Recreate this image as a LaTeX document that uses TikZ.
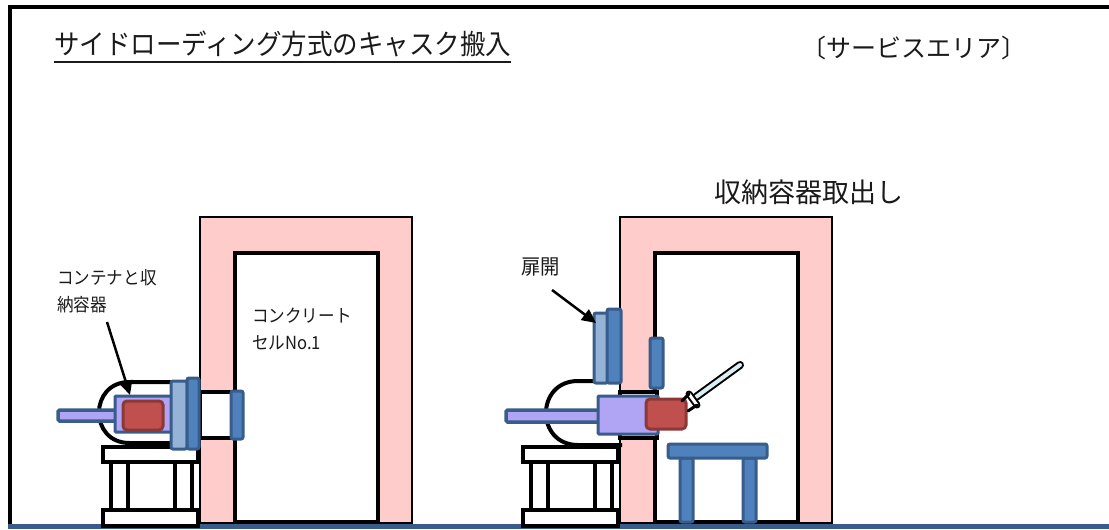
\documentclass[tikz,border=0pt]{standalone}
\usepackage{fontspec}
\setmainfont{Noto Sans CJK JP}
\newfontfamily\narrowjp[FakeStretch=0.92]{Noto Sans CJK JP}
\usetikzlibrary{arrows.meta}
\definecolor{wallpink}{HTML}{FFCCCC}
\definecolor{edgeblue}{HTML}{385D8A}
\definecolor{midblue}{HTML}{4F81BD}
\definecolor{lightblue}{HTML}{95B3D7}
\definecolor{lavender}{HTML}{B0A4F5}
\definecolor{caskred}{HTML}{C0504D}
\definecolor{caskedge}{HTML}{8C3836}
\definecolor{polecyan}{HTML}{DAEEF3}
\definecolor{inktext}{HTML}{1A1A1A}
\begin{document}
\begin{tikzpicture}[x=1pt,y=-1pt,
  wallouter/.style={fill=wallpink,draw=black,line width=1.3pt},
  wallinner/.style={fill=white,draw=black,line width=4pt},
  blackpart/.style={fill=white,draw=black,line width=4pt},
  bluepart/.style={fill=midblue,draw=edgeblue,line width=3pt,rounded corners=2pt},
  lightpart/.style={fill=lightblue,draw=edgeblue,line width=3pt,rounded corners=2pt},
  containerbox/.style={fill=lavender,draw=edgeblue,line width=3pt,rounded corners=1pt},
  caskbox/.style={fill=caskred,draw=caskedge,line width=3pt,rounded corners=4pt},
  rodbox/.style={fill=lavender,draw=edgeblue,line width=3.5pt,rounded corners=1.5pt},
  hood/.style={draw=black,line width=4pt},
  callout/.style={draw=black,line width=2.5pt,-{Triangle[length=14pt,width=13pt]}},
  lbltext/.style={font=\narrowjp\fontsize{18}{27}\selectfont,text=inktext,align=left,inner sep=0pt,anchor=west},
  headtext/.style={text=inktext,inner sep=0pt}]
\useasboundingbox (0,0) rectangle (1109,530);

% frame and floor
\draw[black,line width=3.5pt] (1109,7) -- (10,7) -- (10,524);
\draw[edgeblue,line width=5pt] (8,526.5) -- (1109,526.5);

% headings
\node[headtext,font=\narrowjp\fontsize{27.7}{32}\selectfont,anchor=west] (title) at (54,44) {サイドローディング方式のキャスク搬入};
\draw[inktext,line width=1.3pt] (title.south west |- 0,62) -- (title.south east |- 0,62);
\node[headtext,font=\fontsize{25}{30}\selectfont] (area) at (914,48) {〔サービスエリア〕};
\node[headtext,font=\fontsize{27}{30}\selectfont] (step2) at (809,192) {収納容器取出し};

% ---------- left: cask docked to the cell ----------
\draw[wallouter] (200,217) rectangle (412,523);
\draw[wallinner] (235,253) rectangle (378,522);
\node[lbltext] (cellname) at (252,328.5) {コンクリート\\セルNo.1};
\draw[blackpart] (200,392) rectangle (235,438);
\draw[bluepart] (231,391) rectangle (243,439);

% stand
\draw[blackpart] (111,462) rectangle (128,510);
\draw[blackpart] (175,462) rectangle (192,510);
\draw[blackpart] (103,447) rectangle (198,462);
\draw[blackpart] (103,510) rectangle (198,526);

% cask
\draw[hood] (173,382) -- (129.5,382) .. controls (88.8,382) and (88.8,443) .. (129.5,443) -- (173,443);
\draw[rodbox] (58,410) rectangle (118,421);
\draw[containerbox] (115,396) rectangle (173,432);
\draw[caskbox] (123,401) rectangle (163,430);
\draw[lightpart] (171,381) rectangle (187,449);
\draw[bluepart] (187,378) rectangle (199,449);

\node[lbltext] (contlbl) at (57,291.5) {コンテナと収\\納容器};
\coordinate (contfrom) at (107,322);
\coordinate (contto) at (130,395);
\draw[callout] (contfrom) -- (contto);

% ---------- right: container taken out ----------
\draw[wallouter] (620,217) rectangle (832,523);
\draw[wallinner] (655,253) rectangle (798,522);
\draw[blackpart] (620,392) rectangle (657,438);
\draw[bluepart] (650,338) rectangle (663,388);

% stand
\draw[blackpart] (531,462) rectangle (548,510);
\draw[blackpart] (595,462) rectangle (612,510);
\draw[blackpart] (523,447) rectangle (618,462);
\draw[blackpart] (523,510) rectangle (618,526);

% cask with opened door
\draw[hood] (622,381) -- (578,381) .. controls (535.3,381) and (535.3,445) .. (578,445) -- (622,445);
\draw[rodbox] (506,410) rectangle (600,422);
\draw[containerbox] (598,396) rectangle (658,434);
\draw[caskbox] (646,399) rectangle (686,429);
\draw[lightpart] (594,313) rectangle (608,383);
\draw[bluepart] (607,309) rectangle (621,383);

\node[lbltext,font=\narrowjp\fontsize{21}{27}\selectfont] (doorlbl) at (521,267) {扉開};
\coordinate (doorfrom) at (552,290);
\coordinate (doorto) at (596,323);
\draw[callout] (doorfrom) -- (doorto);

% table inside the cell
\draw[bluepart] (680,458) rectangle (693,522);
\draw[bluepart] (743,458) rectangle (756,522);
\draw[bluepart] (668,444) rectangle (767,458);

% manipulator
\coordinate (poletop) at (740,365);
\coordinate (polefoot) at (696,397);
\draw[black,line width=8pt,line cap=round] (poletop) -- (polefoot);
\draw[polecyan,line width=4pt,line cap=round] (poletop) -- (polefoot);
\coordinate (clawa) at (689,394);
\coordinate (clawb) at (697,405);
\draw[black,line width=7pt,line cap=round] (clawa) -- (clawb);
\draw[white,line width=3pt,line cap=round] (clawa) -- (clawb);
\draw[black,line width=3pt,line cap=round] (clawa) -- (682,401);
\draw[black,line width=3pt,line cap=round] (clawb) -- (688,411);
\end{tikzpicture}
\end{document}
